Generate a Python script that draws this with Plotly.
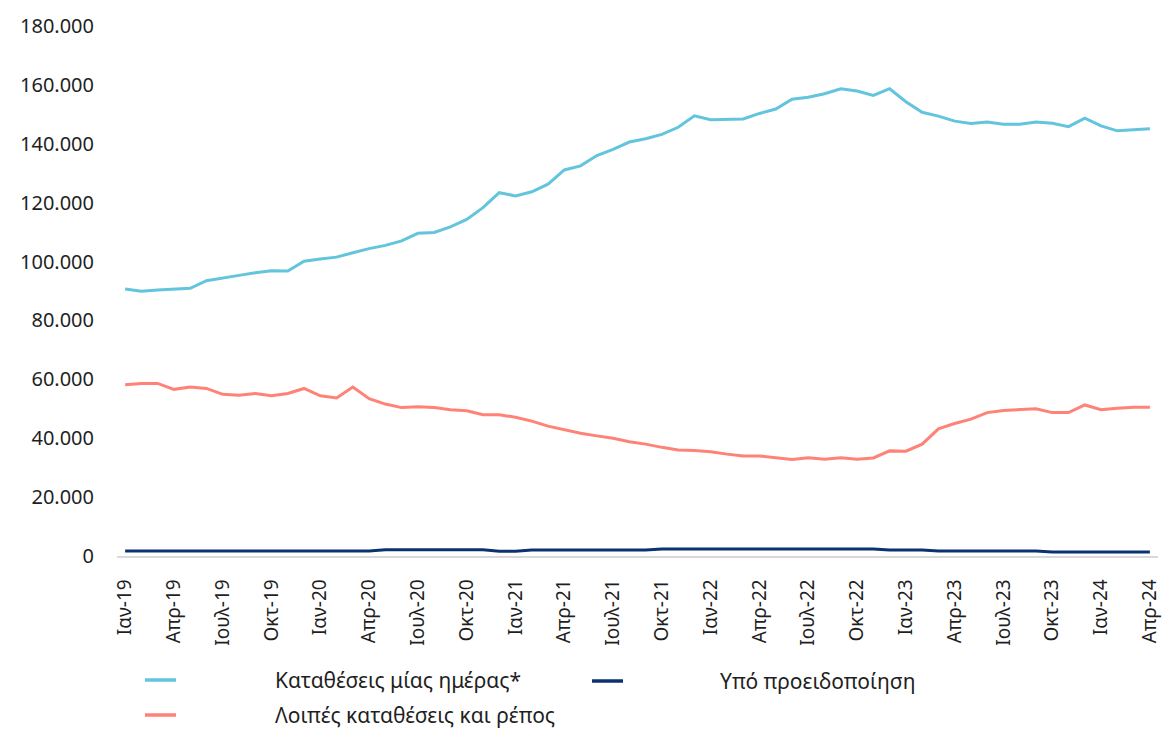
import plotly.graph_objects as go

# Monthly periods, Jan 2019 - Apr 2024
month_names = ["Ιαν", "Φεβ", "Μαρ", "Απρ", "Μαϊ", "Ιουν",
               "Ιουλ", "Αυγ", "Σεπ", "Οκτ", "Νοε", "Δεκ"]
years = ["19", "20", "21", "22", "23", "24"]
months = [f"{m}-{y}" for y in years for m in month_names][:64]

# Overnight deposits (€ m)
overnight = [
    90700, 89900, 90300, 90600, 90900, 93500, 94300, 95300, 96200, 96900,
    96800, 100100, 100900, 101500, 103000, 104400, 105500, 107000, 109600, 109900,
    111800, 114300, 118300, 123400, 122300, 123700, 126300, 131100, 132500, 136000,
    138100, 140600, 141700, 143200, 145600, 149500, 148200, 148400, 148400, 150300,
    151800, 155100, 155800, 157000, 158700, 157900, 156400, 158700, 154300, 150700,
    149400, 147700, 146900, 147400, 146600, 146600, 147400, 147000, 145800, 148700,
    146100, 144400, 144800, 145100,
]

# Deposits redeemable at notice (€ m)
notice = [
    1700, 1700, 1700, 1700, 1700, 1700, 1700, 1700, 1700, 1700,
    1700, 1700, 1700, 1700, 1700, 1700, 2100, 2100, 2100, 2100,
    2100, 2100, 2100, 1600, 1600, 2000, 2000, 2000, 2000, 2000,
    2000, 2000, 2000, 2400, 2400, 2400, 2400, 2400, 2400, 2400,
    2400, 2400, 2400, 2400, 2400, 2400, 2400, 2000, 2000, 2000,
    1700, 1700, 1700, 1700, 1700, 1700, 1700, 1400, 1400, 1400,
    1400, 1400, 1400, 1400,
]

# Other deposits and repos (€ m)
other = [
    58200, 58600, 58600, 56600, 57400, 56900, 54900, 54600, 55200, 54400,
    55200, 56900, 54400, 53700, 57400, 53400, 51600, 50400, 50700, 50400,
    49700, 49300, 48000, 48000, 47100, 45800, 44100, 42800, 41700, 40800,
    40000, 38800, 38000, 36900, 36000, 35800, 35400, 34600, 34000, 34000,
    33500, 32800, 33400, 32900, 33400, 32900, 33300, 35700, 35600, 38000,
    43200, 45000, 46500, 48700, 49400, 49800, 50000, 48700, 48700, 51300,
    49700, 50200, 50500, 50500,
]

y_ticks = [0, 20000, 40000, 60000, 80000, 100000, 120000, 140000, 160000, 180000]
y_labels = ["0", "20.000", "40.000", "60.000", "80.000", "100.000",
            "120.000", "140.000", "160.000", "180.000"]

series = [
    ("Καταθέσεις μίας ημέρας*", overnight, "#62c4dd"),
    ("Υπό προειδοποίηση", notice, "#0b3270"),
    ("Λοιπές καταθέσεις και ρέπος", other, "#ff8276"),
]

FONT = "Noto Sans"
TEXT = "#1f1f1f"
W, H = 1162, 730
ML, MR, MT, MB = 117, 4, 26, 174
PW, PH = W - ML - MR, H - MT - MB

fig = go.Figure()
for name, values, color in series:
    fig.add_trace(go.Scatter(x=months, y=values, mode="lines", name=name,
                             line=dict(color=color, width=3)))


def px_x(px):
    return (px - ML) / PW


def px_y(py):
    return (H - MB - py) / PH


# Legend below the axis: two columns, sample line then label
legend_slots = [(145, 273, 680), (592, 718, 681), (145, 273, 715)]
for (name, _, color), (lx, tx, ly) in zip(series, legend_slots):
    fig.add_shape(type="line", xref="paper", yref="paper",
                  x0=px_x(lx), x1=px_x(lx + 31), y0=px_y(ly), y1=px_y(ly),
                  line=dict(color=color, width=3.5))
    fig.add_annotation(xref="paper", yref="paper", x=px_x(tx), y=px_y(ly),
                       xanchor="left", yanchor="middle", showarrow=False,
                       text=name, font=dict(family=FONT, size=21, color=TEXT))

fig.update_layout(
    width=W, height=H,
    margin=dict(l=ML, r=MR, t=MT, b=MB),
    paper_bgcolor="white", plot_bgcolor="white",
    font=dict(family=FONT, size=20, color=TEXT),
    showlegend=False,
)

fig.update_xaxes(
    type="category", categoryorder="array", categoryarray=months,
    range=[-0.5, len(months) - 0.5],
    tickmode="array", tickvals=months[::3], ticktext=months[::3],
    tickangle=-90, tickfont=dict(family=FONT, size=19, color=TEXT),
    showgrid=False, zeroline=False, automargin=False,
    showline=True, linecolor="#d9d9d9", linewidth=1.5,
    ticks="", ticklabelstandoff=14,
)

fig.update_yaxes(
    range=[0, 180000], automargin=False,
    tickmode="array", tickvals=y_ticks, ticktext=y_labels,
    tickfont=dict(family=FONT, size=20, color=TEXT),
    showgrid=False, zeroline=False, showline=False,
    ticks="", ticklabelstandoff=22,
)

fig.write_html("out.html")
